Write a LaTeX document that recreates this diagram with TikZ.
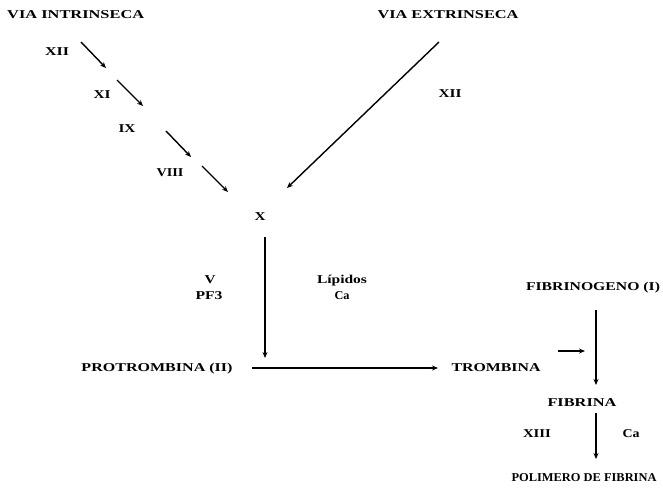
\documentclass[tikz,border=0pt]{standalone}
\usepackage{fontspec}
\usepackage{graphicx}
\setmainfont{Liberation Serif}
\usetikzlibrary{arrows.meta}
\newcommand\fw[2]{\resizebox{#1}{\height}{#2}}
\begin{document}
\begin{tikzpicture}[x=1pt,y=-1pt,
  lbl/.style={font=\fontsize{12}{14}\selectfont\bfseries, inner sep=0pt, text height=7.9pt, text depth=0pt},
  arr/.style={line width=1.4pt, -{Stealth[length=6pt,width=5pt]}}]
\useasboundingbox (0,0) rectangle (663,490);
% labels
\node[lbl,anchor=west] (vi) at (7,15) {\fw{137pt}{VIA INTRINSECA}};
\node[lbl] (ve) at (448,15) {\fw{141pt}{VIA EXTRINSECA}};
\node[lbl] (xii) at (57,52) {\fw{24pt}{XII}};
\node[lbl] (xi) at (102,95) {\fw{17pt}{XI}};
\node[lbl] (ix) at (127,129) {\fw{17pt}{IX}};
\node[lbl] (viii) at (170,173) {\fw{27pt}{VIII}};
\node[lbl] (x) at (260,217) {\fw{11pt}{X}};
\node[lbl] (xiir) at (450,94) {\fw{23pt}{XII}};
\node[lbl] (v) at (210,280) {\fw{11pt}{V}};
\node[lbl] (pf3) at (209,296) {\fw{27pt}{PF3}};
\node[lbl] (lip) at (342,280) {\fw{50pt}{Lípidos}};
\node[lbl] (ca1) at (342,296) {\fw{15pt}{Ca}};
\node[lbl] (prot) at (157,368) {\fw{151pt}{PROTROMBINA (II)}};
\node[lbl] (trom) at (496,368) {\fw{89pt}{TROMBINA}};
\node[lbl] (fgen) at (593,287) {\fw{134pt}{FIBRINOGENO (I)}};
\node[lbl] (fib) at (582,403) {\fw{69pt}{FIBRINA}};
\node[lbl] (xiii) at (537,434) {\fw{28pt}{XIII}};
\node[lbl] (ca2) at (631,434) {\fw{17pt}{Ca}};
\node[lbl] (pol) at (584,478) {\fw{145pt}{POLIMERO DE FIBRINA}};
% connector end points
\coordinate (a1s) at (81,42);   \coordinate (a1e) at (106,68);
\coordinate (a2s) at (117,80);  \coordinate (a2e) at (143,106);
\coordinate (a3s) at (166,131); \coordinate (a3e) at (191,157);
\coordinate (a4s) at (202,166); \coordinate (a4e) at (228,192);
\coordinate (es) at (439,42);   \coordinate (ee) at (287,188);
\coordinate (xs) at (265,237);  \coordinate (xe) at (265,358);
\coordinate (hs) at (252,368);  \coordinate (he) at (438,368);
\coordinate (fs) at (596,310);  \coordinate (fe) at (596,385);
\coordinate (ts) at (558,351);  \coordinate (te) at (585,351);
\coordinate (ps) at (596,413);  \coordinate (pe) at (596,459);
% connectors
\draw[arr] (a1s) -- (a1e);
\draw[arr] (a2s) -- (a2e);
\draw[arr] (a3s) -- (a3e);
\draw[arr] (a4s) -- (a4e);
\draw[arr] (es) -- (ee);
\draw[arr] (xs) -- (xe);
\draw[arr] (hs) -- (he);
\draw[arr] (fs) -- (fe);
\draw[arr,line width=1.1pt] (ts) -- (te);
\draw[arr] (ps) -- (pe);
\end{tikzpicture}
\end{document}
